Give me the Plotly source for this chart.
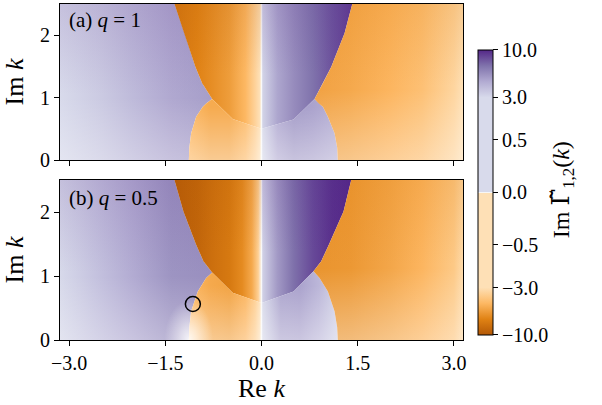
import numpy as np
import plotly.graph_objects as go
from plotly.colors import sample_colorscale, unlabel_rgb

PI = float(np.pi)

# ---------------- data ----------------
# Branch-cut boundaries: Re k of the boundary at each Im k
a_left_im  = [0.0, 0.2, 0.427, 0.693, 0.853, 0.907, 0.976, 1.23, 1.49, 2.03, 2.5]
a_left_re  = [-1.133, -1.125, -1.097, -1.019, -0.915, -0.863, -0.769, -0.925, -1.03, -1.20, -1.357]
a_right_im = [0.0, 0.2, 0.427, 0.693, 0.853, 0.907, 0.976, 1.23, 1.49, 2.03, 2.5]
a_right_re = [1.19, 1.18, 1.139, 1.035, 0.957, 0.894, 0.827, 0.957, 1.087, 1.295, 1.415]
a_cusp = 6
# rays leaving the cusps towards Re k = 0
a_rayL_re = [-0.769, -0.45, 0.0]
a_rayL_im = [0.976, 0.656, 0.50]
a_rayR_re = [0.827, 0.50, 0.0]
a_rayR_im = [0.976, 0.650, 0.50]

b_left_im  = [0.0, 0.2, 0.448, 0.76, 0.969, 1.057, 1.23, 1.49, 2.01, 2.5]
b_left_re  = [-1.133, -1.125, -1.097, -0.993, -0.863, -0.769, -0.905, -1.019, -1.217, -1.357]
b_right_im = [0.0, 0.2, 0.448, 0.76, 0.969, 1.073, 1.23, 1.49, 2.01, 2.5]
b_right_re = [1.19, 1.18, 1.139, 1.035, 0.905, 0.811, 0.931, 1.05, 1.279, 1.399]
b_cusp = 5
b_rayL_re = [-0.769, -0.45, 0.0]
b_rayL_im = [1.057, 0.74, 0.58]
b_rayR_re = [0.811, 0.50, 0.0]
b_rayR_im = [1.073, 0.76, 0.58]

# Im Gamma(k) read along Re k in each region
a_R1_re  = [-PI, -2.5, -2.0, -1.4, -0.77]
a_R1_val = [2.9, 3.5, 4.1, 4.8, 5.2]
a_R2u_re  = [-1.357, -1.0, -0.75, -0.5, -0.25, -0.1, -0.03, 0.0]
a_R2u_val = [-7.8, -7.0, -6.4, -5.8, -4.7, -3.5, -2.5, 0.0]
a_R2l_re  = [-1.133, -0.8, -0.5, -0.25, -0.1, -0.03, 0.0]
a_R2l_val = [-4.6, -5.2, -5.2, -4.5, -3.5, -2.5, 0.0]
a_R3u_re  = [0.0, 0.02, 0.25, 0.5, 0.8, 1.1, 1.415]
a_R3u_val = [0.0, 3.2, 4.9, 5.9, 7.0, 8.2, 9.2]
a_R3l_re  = [0.0, 0.02, 0.25, 0.5, 0.8, 1.19]
a_R3l_val = [0.0, 3.0, 4.6, 5.2, 5.0, 4.4]
a_R4_re  = [0.827, 1.4, 2.0, 2.5, 3.0, PI]
a_R4_val = [-5.6, -5.3, -4.8, -4.3, -3.4, -2.9]

b_R1_re  = [-PI, -2.5, -2.0, -1.4, -0.769]
b_R1_val = [3.0, 3.9, 4.7, 5.6, 5.8]
b_R2u_re  = [-1.357, -1.0, -0.75, -0.5, -0.3, -0.15, -0.05, 0.0]
b_R2u_val = [-9.7, -9.0, -8.2, -7.6, -6.6, -5.3, -3.6, 0.0]
b_R2l_re  = [-1.133, -0.8, -0.5, -0.25, -0.1, -0.03, 0.0]
b_R2l_val = [-4.6, -5.3, -5.5, -4.8, -3.7, -2.6, 0.0]
b_R3u_re  = [0.0, 0.02, 0.25, 0.5, 0.8, 1.1, 1.399]
b_R3u_val = [0.0, 3.3, 5.4, 7.1, 8.6, 9.6, 10.0]
b_R3l_re  = [0.0, 0.02, 0.3, 0.6, 0.9, 1.19]
b_R3l_val = [0.0, 3.0, 4.9, 5.0, 4.2, 3.2]
b_R4_re  = [0.811, 1.4, 2.0, 2.5, 3.0, PI]
b_R4_val = [-6.2, -6.0, -5.4, -4.8, -3.9, -3.2]

# marked point in panel (b)
b_mark_re = [-1.07]
b_mark_im = [0.5625]

cbar_ticks = [-10.0, -3.0, -0.5, 0.0, 0.5, 3.0, 10.0]
x_ticks = [-3.0, -1.5, 0.0, 1.5, 3.0]
y_ticks = [0, 1, 2]

# ---------------- colour scale (power-law norm) ----------------
CS = [
    [0.0, 'rgb(179,88,6)'], [0.0556, 'rgb(224,130,20)'], [0.1111, 'rgb(253,184,99)'],
    [0.1667, 'rgb(254,224,182)'], [0.4995, 'rgb(254,224,182)'], [0.5, 'rgb(247,247,247)'],
    [0.5005, 'rgb(216,218,235)'], [0.8333, 'rgb(216,218,235)'], [0.8889, 'rgb(178,171,210)'],
    [0.9444, 'rgb(128,115,172)'], [1.0, 'rgb(84,39,136)'],
]


def norm(v):
    return float(np.sign(v) * (abs(v) / 10.0) ** (1.0 / 3.0))


def vcol(v):
    s = sample_colorscale(CS, [(norm(v) + 1) / 2])[0]
    r, g, b = unlabel_rgb(s)
    return '#%02x%02x%02x' % (int(round(r)), int(round(g)), int(round(b)))


def hgrad(re, val):
    x0, x1 = re[0], re[-1]
    cs = []
    for i, (x, v) in enumerate(zip(re, val)):
        f = 0.0 if i == 0 else (1.0 if i == len(re) - 1 else (x - x0) / (x1 - x0))
        cs.append([f, vcol(v)])
    return dict(type='horizontal', colorscale=cs, start=x0, stop=x1)


OV = {
    'R1': [[0, 'rgba(255,255,255,0.30)'], [0.40, 'rgba(255,255,255,0)'],
           [0.42, 'rgba(84,39,136,0)'], [1, 'rgba(84,39,136,0.14)']],
    'R2u': [[0, 'rgba(179,88,6,0)'], [0.55, 'rgba(179,88,6,0)'], [1, 'rgba(179,88,6,0.16)']],
    'R2l': [[0, 'rgba(255,255,255,0.38)'], [0.34, 'rgba(255,255,255,0)'], [1, 'rgba(255,255,255,0)']],
    'R3u': [[0, 'rgba(84,39,136,0)'], [0.55, 'rgba(84,39,136,0)'], [1, 'rgba(84,39,136,0.14)']],
    'R3l': [[0, 'rgba(255,255,255,0.38)'], [0.34, 'rgba(255,255,255,0)'], [1, 'rgba(255,255,255,0)']],
    'R4': [[0, 'rgba(255,255,255,0.35)'], [0.45, 'rgba(255,255,255,0)'],
           [0.47, 'rgba(224,130,20,0)'], [1, 'rgba(224,130,20,0.22)']],
}

fig = go.Figure()


def add_poly(px, py, fg, xa, ya):
    fig.add_trace(go.Scatter(x=px, y=py, mode='lines', line=dict(width=0), fill='toself',
                             fillgradient=fg, hoverinfo='skip', showlegend=False,
                             xaxis=xa, yaxis=ya))


def panel(L_im, L_re, R_im, R_re, c, rayL, rayR, vals, xa, ya):
    R1, R2u, R2l, R3u, R3l, R4 = vals
    lrx, lry = rayL
    rrx, rry = rayR
    polys = {
        'R1': ([-PI] + L_re + [-PI], [0.0] + L_im + [2.5]),
        'R2u': (L_re[c:] + [0.0] + lrx[::-1][:-1], L_im[c:] + [2.5] + lry[::-1][:-1]),
        'R2l': (L_re[:c + 1] + lrx[1:] + [0.0], L_im[:c + 1] + lry[1:] + [0.0]),
        'R3u': (R_re[c:] + [0.0] + rrx[::-1][:-1], R_im[c:] + [2.5] + rry[::-1][:-1]),
        'R3l': (R_re[:c + 1] + rrx[1:] + [0.0], R_im[:c + 1] + rry[1:] + [0.0]),
        'R4': ([PI] + R_re + [PI], [0.0] + R_im + [2.5]),
    }
    vd = {'R1': R1, 'R2u': R2u, 'R2l': R2l, 'R3u': R3u, 'R3l': R3l, 'R4': R4}
    for k, (px, py) in polys.items():
        add_poly(px, py, hgrad(*vd[k]), xa, ya)
    for k, (px, py) in polys.items():
        if k in OV:
            add_poly(px, py, dict(type='vertical', colorscale=OV[k], start=0, stop=2.5), xa, ya)


panel(a_left_im, a_left_re, a_right_im, a_right_re, a_cusp,
      (a_rayL_re, a_rayL_im), (a_rayR_re, a_rayR_im),
      [(a_R1_re, a_R1_val), (a_R2u_re, a_R2u_val), (a_R2l_re, a_R2l_val),
       (a_R3u_re, a_R3u_val), (a_R3l_re, a_R3l_val), (a_R4_re, a_R4_val)], 'x2', 'y2')
panel(b_left_im, b_left_re, b_right_im, b_right_re, b_cusp,
      (b_rayL_re, b_rayL_im), (b_rayR_re, b_rayR_im),
      [(b_R1_re, b_R1_val), (b_R2u_re, b_R2u_val), (b_R2l_re, b_R2l_val),
       (b_R3u_re, b_R3u_val), (b_R3l_re, b_R3l_val), (b_R4_re, b_R4_val)], 'x', 'y')

# soft glow where the cut closes in panel (b)
th = np.linspace(0, 2 * np.pi, 60)
gx = (b_left_re[0] + 0.38 * np.cos(th)).tolist()
gy = (b_left_im[0] + 0.62 * np.sin(th)).tolist()
add_poly(gx, gy, dict(type='radial', colorscale=[[0, 'rgba(255,255,255,0.85)'], [0.5, 'rgba(255,255,255,0.4)'],
                                                  [1, 'rgba(255,255,255,0)']]), 'x', 'y')

fig.add_trace(go.Scatter(x=b_mark_re, y=b_mark_im, mode='markers', xaxis='x', yaxis='y',
                         marker=dict(symbol='circle-open', size=15, color='black', line=dict(width=1.5)),
                         hoverinfo='skip', showlegend=False))

# colour bar carrier (outside visible range)
fig.add_trace(go.Heatmap(z=[[-1.0, 1.0]], x=[-10, -9], y=[-10, -9], colorscale=CS, zmin=-1, zmax=1,
                         xaxis='x', yaxis='y', hoverinfo='skip',
                         colorbar=dict(thickness=15, thicknessmode='pixels', len=285, lenmode='pixels',
                                       x=1.037, xanchor='left', xpad=0, y=0.439, yanchor='middle', ypad=0,
                                       outlinewidth=1, outlinecolor='black', ticks='outside', ticklen=5,
                                       tickcolor='black',
                                       tickvals=[norm(v) for v in cbar_ticks],
                                       ticktext=[('%.1f' % v).replace('-', '\u2212') for v in cbar_ticks],
                                       tickfont=dict(size=20))))

FONT = 'Liberation Serif'
ax_common = dict(showline=True, mirror=True, linecolor='black', linewidth=1, ticks='outside',
                 ticklen=5, tickcolor='black', showgrid=False, zeroline=False)
xt = [('%.1f' % v).replace('-', '\u2212') for v in x_ticks]
fig.update_layout(
    width=602, height=405, margin=dict(l=60, r=139, t=4, b=65),
    paper_bgcolor='white', plot_bgcolor='white', showlegend=False,
    font=dict(family=FONT, size=20, color='black'),
    xaxis=dict(domain=[0, 1], anchor='y', range=[-PI, PI], tickvals=x_ticks, ticktext=xt,
               title=dict(text='Re <i>k</i>', font=dict(size=26), standoff=4), **ax_common),
    xaxis2=dict(domain=[0, 1], anchor='y2', range=[-PI, PI], tickvals=x_ticks, showticklabels=False,
                **ax_common),
    yaxis=dict(domain=[0, 0.476], anchor='x', range=[0, 2.5], tickvals=y_ticks,
               title=dict(text='Im <i>k</i>', font=dict(size=26), standoff=8), **ax_common),
    yaxis2=dict(domain=[0.5357, 1], anchor='x2', range=[0, 2.5], tickvals=y_ticks,
                title=dict(text='Im <i>k</i>', font=dict(size=26), standoff=8), **ax_common),
    annotations=[
        dict(text='(a) <i>q</i> = 1', x=-3.03, y=2.24, xref='x2', yref='y2', xanchor='left',
             yanchor='middle', showarrow=False, font=dict(size=21)),
        dict(text='(b) <i>q</i> = 0.5', x=-3.03, y=2.22, xref='x', yref='y', xanchor='left',
             yanchor='middle', showarrow=False, font=dict(size=21)),
        dict(text='Im <span style="font-family:DejaVu Serif">\u0393\u0303</span><sub>1,2</sub>(<i>k</i>)',
             x=1.2457, y=0.446, xref='paper', yref='paper',
             textangle=-90, showarrow=False, font=dict(size=24), xanchor='center', yanchor='middle'),
    ],
)

fig.write_html('out.html')
